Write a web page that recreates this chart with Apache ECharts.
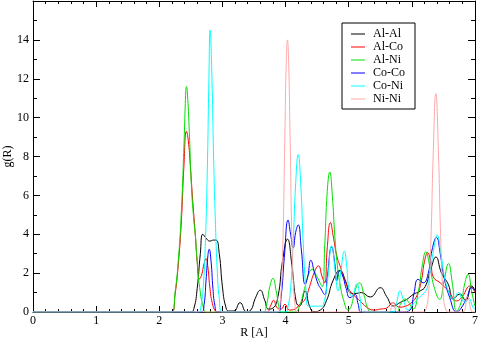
<!DOCTYPE html>
<html>
<head>
<meta charset="utf-8">
<script src="https://cdn.jsdelivr.net/npm/echarts@6/dist/echarts.min.js"></script>
<style>
  html, body { margin: 0; padding: 0; background: #fff; }
  #chart { width: 480px; height: 340px; }
</style>
</head>
<body>
<div id="chart"></div>
<script>
// pair names shown in the legend
const pairNames = ['Al-Al', 'Al-Co', 'Al-Ni', 'Co-Co', 'Co-Ni', 'Ni-Ni'];
const pairColors = ['#000000', '#ff0000', '#00e000', '#0000ff', '#00ffff', '#ffa8a8'];

// g(R), [R, g]
const alAl = [[0,0],[2.5,0],[2.55,0.2],[2.6,1.2],[2.65,3.0],[2.69,4.0],[2.74,3.8],[2.8,3.65],[2.86,3.7],[2.9,3.7],
  [2.95,3.0],[3.0,1.3],[3.05,0.3],[3.1,0.05],[3.18,0.05],[3.28,0.48],[3.38,0.02],[3.45,0.1],[3.52,0.7],[3.6,1.12],
  [3.67,0.6],[3.73,0.15],[3.8,0.2],[3.88,0.8],[3.95,2.6],[4.03,3.75],[4.1,2.4],[4.17,0.5],[4.22,0.3],[4.31,1.08],
  [4.38,0.3],[4.45,0.02],[4.55,0.1],[4.65,0.6],[4.75,1.6],[4.86,2.14],[4.95,1.6],[5.02,1.0],[5.1,0.95],[5.2,1.0],
  [5.34,0.77],[5.5,1.25],[5.6,0.8],[5.71,0.31],[5.82,0.5],[5.92,0.65],[6.02,0.9],[6.13,1.08],[6.21,1.3],[6.3,2.2],
  [6.38,2.83],[6.47,2.0],[6.58,1.4],[6.65,0.67],[6.76,0.92],[6.85,0.6],[6.95,1.34],[7.0,1.1]];

const alCo = [[0,0],[2.2,0],[2.25,0.9],[2.3,2.4],[2.35,4.7],[2.39,7.5],[2.43,9.3],[2.46,8.8],[2.49,7.6],[2.53,5.7],
  [2.57,4.0],[2.6,2.6],[2.635,1.7],[2.67,1.9],[2.71,2.5],[2.74,2.75],[2.77,2.3],[2.8,1.3],[2.84,0.45],[2.89,0.05],
  [2.93,0],[3.7,0],[3.76,0.3],[3.81,0.6],[3.87,0.2],[3.93,0.15],[3.99,0.4],[4.06,0.1],[4.15,0.15],[4.23,0.43],
  [4.3,0.6],[4.38,1.3],[4.45,2.0],[4.52,2.37],[4.58,1.8],[4.62,1.5],[4.66,3.3],[4.71,4.6],[4.76,3.8],[4.81,2.9],
  [4.87,2.3],[4.92,1.77],[5.02,1.08],[5.1,0.8],[5.18,0.57],[5.28,0.26],[5.4,0.1],[5.5,0.15],[5.6,0.2],[5.7,0.48],
  [5.8,0.25],[5.9,0.3],[6.0,0.5],[6.08,0.85],[6.15,1.6],[6.2,2.6],[6.25,3.05],[6.3,2.5],[6.34,1.8],[6.45,1.5],
  [6.58,1.08],[6.71,0.57],[6.8,0.8],[6.92,1.34],[7.0,1.0]];

const alNi = [[0,0],[2.2,0],[2.25,1.0],[2.3,2.6],[2.35,5.2],[2.39,8.5],[2.42,11.4],[2.43,11.6],[2.45,11.0],[2.475,9.3],
  [2.51,6.4],[2.55,4.6],[2.57,4.0],[2.6,2.6],[2.64,1.25],[2.7,0.2],[2.74,0],[3.64,0],[3.7,0.4],[3.75,1.3],
  [3.8,1.73],[3.85,1.1],[3.9,0.2],[3.94,0],[4.15,0],[4.22,0.3],[4.3,1.2],[4.36,1.9],[4.42,2.2],[4.5,1.8],
  [4.58,1.3],[4.62,3.4],[4.66,6.2],[4.7,7.2],[4.74,6.0],[4.78,3.9],[4.82,2.4],[4.87,1.3],[4.92,0.6],[4.99,0.1],
  [5.04,0.3],[5.1,1.1],[5.17,1.5],[5.24,0.9],[5.3,0.2],[5.36,0],[5.75,0],[5.82,0.4],[5.89,0.67],[5.95,0.5],
  [6.02,0.15],[6.1,1.0],[6.17,2.5],[6.22,3.1],[6.28,2.4],[6.36,1.2],[6.44,0.65],[6.51,1.6],[6.58,2.49],[6.64,1.5],
  [6.71,0.05],[6.78,0.5],[6.84,1.5],[6.89,1.94],[6.95,1.0],[7.0,0.3]];

const coCo = [[0,0],[2.67,0],[2.71,0.4],[2.74,1.6],[2.77,2.9],[2.79,3.23],[2.82,2.6],[2.85,1.2],[2.88,0.35],[2.92,0],
  [3.88,0],[3.93,0.8],[3.98,2.8],[4.04,4.73],[4.08,4.0],[4.12,3.3],[4.16,4.1],[4.2,4.48],[4.25,3.2],[4.31,1.43],
  [4.35,1.8],[4.4,2.66],[4.46,2.0],[4.52,1.4],[4.55,1.25],[4.62,0.9],[4.66,1.8],[4.73,3.35],[4.78,2.5],[4.81,1.6],
  [4.85,2.1],[4.9,1.9],[4.96,1.2],[5.02,0.74],[5.1,0.9],[5.15,0.4],[5.2,0],[5.85,0],[5.97,0.1],[6.03,0.9],
  [6.1,1.68],[6.18,1.5],[6.26,2.0],[6.32,3.2],[6.39,3.83],[6.45,3.0],[6.5,1.94],[6.6,0.74],[6.71,0],[6.78,0.2],
  [6.87,0.74],[6.95,1.25],[7.0,1.1]];

const coNi = [[0,0],[2.62,0],[2.66,0.3],[2.7,1.5],[2.73,3.6],[2.76,7.2],[2.785,11.8],[2.805,14.5],[2.83,12.5],[2.86,8.0],
  [2.89,4.5],[2.92,2.0],[2.95,0.7],[2.99,0],[4.0,0],[4.04,0.3],[4.08,1.25],[4.12,3.5],[4.16,6.6],[4.2,8.1],
  [4.24,6.6],[4.28,3.5],[4.32,1.25],[4.36,0.3],[4.45,0.3],[4.55,0.3],[4.6,0.4],[4.66,1.5],[4.73,3.4],[4.79,2.0],
  [4.83,1.08],[4.88,2.2],[4.93,3.14],[4.97,2.3],[5.0,1.25],[5.05,0.8],[5.13,1.45],[5.18,0.7],[5.23,0],[5.7,0],
  [5.76,0.5],[5.81,1.08],[5.87,0.6],[5.94,0.1],[6.02,0.4],[6.1,0.7],[6.18,0.94],[6.24,1.2],[6.29,2.1],[6.35,3.3],
  [6.4,3.96],[6.46,3.0],[6.53,1.6],[6.6,0.9],[6.65,0.67],[6.74,1.0],[6.8,0.6],[6.85,0.5],[6.9,0.7],[6.97,0.22],[7.0,0.15]];

const niNi = [[0,0],[3.87,0],[3.91,0.35],[3.95,2.7],[3.99,9.3],[4.01,12.7],[4.03,14.0],[4.05,12.7],[4.07,9.3],[4.11,2.7],
  [4.15,0.35],[4.19,0],[5.62,0],[5.7,0.5],[5.78,0],[6.2,0],[6.22,0.1],[6.26,0.8],[6.3,3.5],[6.34,8.3],
  [6.38,11.24],[6.42,8.3],[6.46,3.5],[6.5,0.8],[6.54,0.1],[6.58,0],[6.8,0],[6.88,0.8],[6.96,0],[7.0,0]];

const pairData = [alAl, alCo, alNi, coCo, coNi, niNi];

const font = 'Liberation Serif';
const chart = echarts.init(document.getElementById('chart'), null, { renderer: 'canvas' });

const xBase = {
  type: 'value', min: 0, max: 7, interval: 1,
  axisLine: { show: true, onZero: false, lineStyle: { color: '#000', width: 1 } },
  axisTick: { show: true, inside: true, length: 6, lineStyle: { color: '#000' } },
  minorTick: { show: true, splitNumber: 5, length: 3, lineStyle: { color: '#000' } },
  splitLine: { show: false }
};
const yBase = {
  type: 'value', min: 0, max: 16, interval: 2,
  axisLine: { show: true, onZero: false, lineStyle: { color: '#000', width: 1 } },
  axisTick: { show: true, inside: true, length: 7, lineStyle: { color: '#000' } },
  minorTick: { show: true, splitNumber: 2, length: 4, lineStyle: { color: '#000' } },
  splitLine: { show: false }
};

const option = {
  animation: false,
  backgroundColor: '#fff',
  grid: { left: 33, right: 5, top: 1, bottom: 28, containLabel: false, outerBoundsMode: 'none' },
  legend: {
    orient: 'vertical',
    left: 342, top: 23,
    data: pairNames,
    icon: 'rect',
    backgroundColor: '#fff',
    borderColor: '#000', borderWidth: 1, borderRadius: 0,
    padding: [5, 10, 4, 9],
    itemWidth: 14, itemHeight: 1, itemGap: 1,
    textStyle: { fontFamily: font, fontSize: 12, color: '#000', padding: [0, 0, 0, 3] }
  },
  xAxis: [
    Object.assign({}, xBase, {
      position: 'bottom',
      name: 'R [A]', nameLocation: 'middle', nameGap: 15, nameMoveOverlap: false,
      nameTextStyle: { fontFamily: font, fontSize: 12, color: '#000' },
      axisLabel: { color: '#000', fontFamily: font, fontSize: 12, margin: 3 }
    }),
    Object.assign({}, xBase, { position: 'top', axisLabel: { show: false } })
  ],
  yAxis: [
    Object.assign({}, yBase, {
      position: 'left',
      name: 'g(R)', nameLocation: 'middle', nameGap: 19, nameRotate: 90, nameMoveOverlap: false,
      nameTextStyle: { fontFamily: font, fontSize: 12, color: '#000' },
      axisLabel: {
        color: '#000', fontFamily: font, fontSize: 12, margin: 4,
        formatter: v => (v >= 16 ? '' : String(v))
      }
    }),
    Object.assign({}, yBase, { position: 'right', axisLabel: { show: false } })
  ],
  series: pairNames.map((name, i) => ({
    name: name,
    type: 'line',
    xAxisIndex: 0, yAxisIndex: 0,
    data: pairData[i],
    smooth: 0.5,
    symbol: 'none',
    showSymbol: false,
    clip: true,
    color: pairColors[i],
    lineStyle: { color: pairColors[i], width: 1 }
  }))
};

chart.setOption(option);
</script>
</body>
</html>
